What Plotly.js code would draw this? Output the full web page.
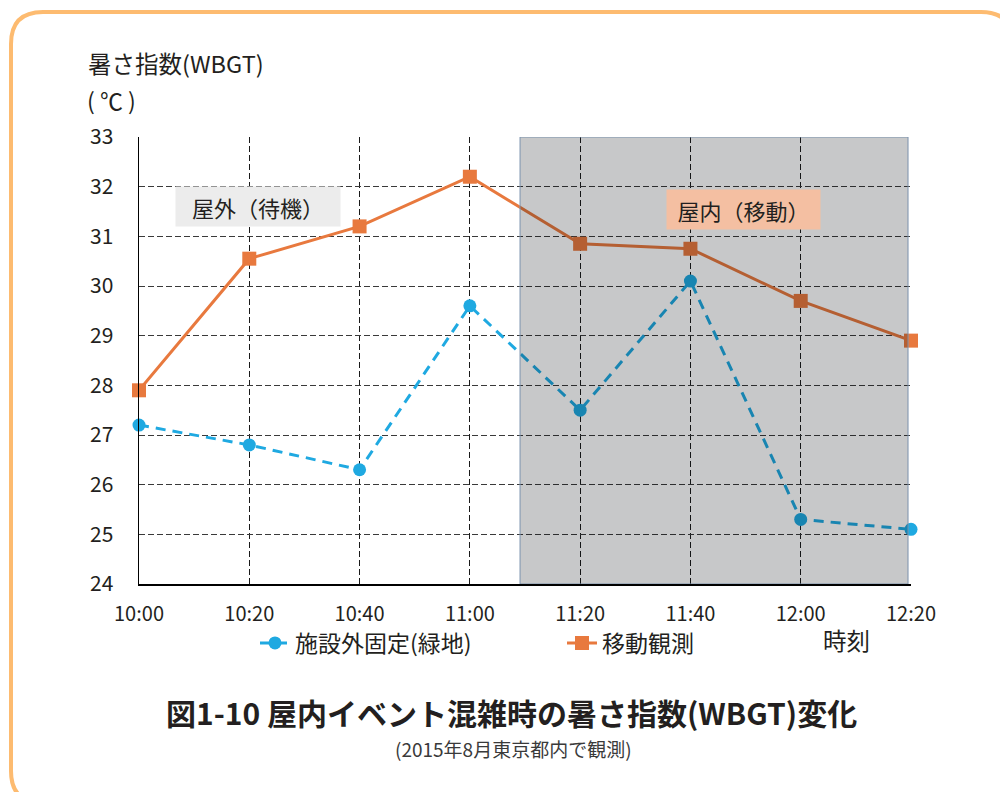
<!DOCTYPE html>
<html>
<head>
<meta charset="utf-8">
<script src="https://cdn.plot.ly/plotly-3.0.1.min.js"></script>
<style>
  html, body { margin: 0; padding: 0; background: #ffffff; }
  #chart { width: 1000px; height: 792px; }
</style>
</head>
<body>
<div id="chart"></div>
<script>
// Time of day (x categories)
const times = ['10:00', '10:20', '10:40', '11:00', '11:20', '11:40', '12:00', '12:20'];
// WBGT at the fixed outdoor site (green space)
const fixedSite = [27.2, 26.8, 26.3, 29.6, 27.5, 30.1, 25.3, 25.1];
// WBGT measured while moving
const mobile = [27.9, 30.55, 31.2, 32.2, 30.85, 30.75, 29.7, 28.9];
// Series names
const seriesNames = ['施設外固定(緑地)', '移動観測'];
// Y axis ticks
const yTicks = [24, 25, 26, 27, 28, 29, 30, 31, 32, 33];

const FONT = '"Noto Sans CJK JP", "Noto Sans", sans-serif';
const INK = '#231f20';

// plot-area box in page pixels
const L = 139, R = 911, T = 137, B = 584;
const px = p => (p - L) / (R - L);
const py = p => (B - p) / (B - T);

// rounded outer frame path, in paper coordinates
function framePath(x0, y0, x1, y1, r) {
  const P = (x, y) => px(x).toFixed(5) + ',' + py(y).toFixed(5);
  return 'M' + P(x0 + r, y0) +
    ' L' + P(x1 - r, y0) + ' Q' + P(x1, y0) + ' ' + P(x1, y0 + r) +
    ' L' + P(x1, y1 - r) + ' Q' + P(x1, y1) + ' ' + P(x1 - r, y1) +
    ' L' + P(x0 + r, y1) + ' Q' + P(x0, y1) + ' ' + P(x0, y1 - r) +
    ' L' + P(x0, y0 + r) + ' Q' + P(x0, y0) + ' ' + P(x0 + r, y0) + ' Z';
}

const traces = [
  {
    x: times, y: fixedSite, name: seriesNames[0],
    type: 'scatter', mode: 'lines+markers', cliponaxis: false,
    line: { color: '#1fa9e1', width: 3, dash: '10px,7px' },
    marker: { symbol: 'circle', size: 13, color: '#1fa9e1' }
  },
  {
    x: times, y: mobile, name: seriesNames[1],
    type: 'scatter', mode: 'lines+markers', cliponaxis: false,
    line: { color: '#e8793e', width: 3 },
    marker: { symbol: 'square', size: 14, color: '#e8793e' }
  }
];

const layout = {
  width: 1000, height: 792,
  margin: { l: L, r: 1000 - R, t: T, b: 792 - B },
  paper_bgcolor: '#ffffff', plot_bgcolor: '#ffffff',
  font: { family: FONT, color: INK },
  showlegend: true,
  legend: {
    orientation: 'h', x: px(255), y: py(643), xanchor: 'left', yanchor: 'middle',
    font: { family: FONT, size: 23, color: INK },
    entrywidth: 262, entrywidthmode: 'pixels',
    bgcolor: 'rgba(0,0,0,0)'
  },
  xaxis: {
    type: 'category', range: [0, 7], fixedrange: true,
    showline: true, linecolor: '#000000', linewidth: 1.5,
    showgrid: true, gridcolor: '#1a1a1a', gridwidth: 1, griddash: '6px,3px',
    ticks: '', ticklabelstandoff: 11,
    tickfont: { family: FONT, size: 20, color: INK },
    zeroline: false
  },
  yaxis: {
    range: [24, 33], tickvals: yTicks, fixedrange: true,
    showline: true, linecolor: '#000000', linewidth: 1.5,
    showgrid: true, gridcolor: '#3a3a3a', gridwidth: 1, griddash: '6px,3px',
    ticks: '', ticklabelstandoff: 20,
    tickfont: { family: FONT, size: 21, color: INK },
    zeroline: false
  },
  shapes: [
    {
      type: 'path', xref: 'paper', yref: 'paper', layer: 'below',
      path: framePath(11, 12, 1013, 803, 32),
      line: { color: '#fdbb70', width: 4 }, fillcolor: 'rgba(0,0,0,0)'
    },
    {
      type: 'rect', xref: 'x', yref: 'y', layer: 'above',
      x0: 3.455, x1: 6.973, y0: 24, y1: 33,
      fillcolor: 'rgba(0,4,10,0.22)',
      line: { color: '#7a92ad', width: 1 }
    }
  ],
  annotations: [
    {
      xref: 'paper', yref: 'paper', x: px(86), y: py(63), xanchor: 'left', yanchor: 'middle',
      text: '暑さ指数(WBGT)', showarrow: false,
      font: { family: FONT, size: 23.5, color: INK }
    },
    {
      xref: 'paper', yref: 'paper', x: px(85), y: py(100), xanchor: 'left', yanchor: 'middle',
      text: '( ℃ )', showarrow: false,
      font: { family: FONT, size: 23, color: INK }
    },
    {
      xref: 'paper', yref: 'paper', x: px(846), y: py(640), xanchor: 'center', yanchor: 'middle',
      text: '時刻', showarrow: false,
      font: { family: FONT, size: 23.5, color: INK }
    },
    {
      xref: 'paper', yref: 'paper', x: px(258), y: py(206.5), xanchor: 'center', yanchor: 'middle',
      text: '屋外（待機）', showarrow: false,
      bgcolor: '#ececec', borderpad: 2, width: 160, height: 35,
      font: { family: FONT, size: 22, color: INK }
    },
    {
      xref: 'paper', yref: 'paper', x: px(743.5), y: py(209.5), xanchor: 'center', yanchor: 'middle',
      text: '屋内（移動）', showarrow: false,
      bgcolor: '#f4bfa2', borderpad: 2, width: 149, height: 35,
      font: { family: FONT, size: 22, color: INK }
    },
    {
      xref: 'paper', yref: 'paper', x: px(511), y: py(712), xanchor: 'center', yanchor: 'middle',
      text: '<b>図1-10 屋内イベント混雑時の暑さ指数(WBGT)変化</b>', showarrow: false,
      font: { family: FONT, size: 30, color: INK }
    },
    {
      xref: 'paper', yref: 'paper', x: px(513), y: py(748), xanchor: 'center', yanchor: 'middle',
      text: '(2015年8月東京都内で観測)', showarrow: false,
      font: { family: FONT, size: 19, color: '#3a3a3a' }
    }
  ]
};

Plotly.newPlot('chart', traces, layout, { displayModeBar: false, staticPlot: true });
</script>
</body>
</html>
